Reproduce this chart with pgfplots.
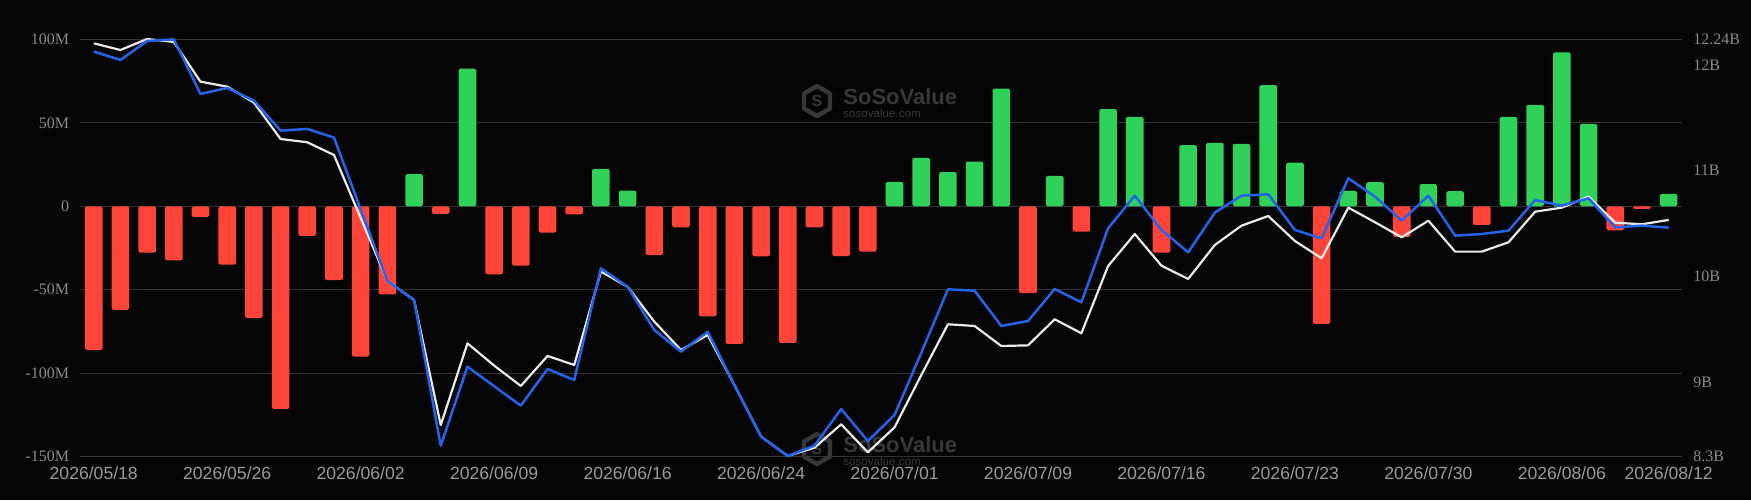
\documentclass[border=0pt]{standalone}
\usepackage{fontspec}
\setmainfont{Liberation Serif}
\newfontfamily\sansf{Liberation Sans}
\usepackage{pgfplots}
\pgfplotsset{compat=1.18}
\definecolor{bg}{HTML}{050505}
\definecolor{gridc}{HTML}{333333}
\definecolor{redb}{HTML}{FF453A}
\definecolor{greenb}{HTML}{30D158}
\definecolor{bluel}{HTML}{2563EB}
\definecolor{whitel}{HTML}{EAEAEA}
\definecolor{ylab}{HTML}{8A8A8A}
\definecolor{xlab}{HTML}{9A9A9A}
\definecolor{wm}{HTML}{383838}
\begin{document}
\begin{tikzpicture}
\fill[bg] (0,0) rectangle (875.5pt,250pt);
\path[use as bounding box] (0,0) rectangle (875.5pt,250pt);
% watermarks
\foreach \yy in {199.5,25.5}{
  \draw[wm, line width=2.2pt, line join=round] (408.5pt,\yy pt) +(90:7.5pt) -- +(30:7.5pt) -- +(-30:7.5pt) -- +(-90:7.5pt) -- +(-150:7.5pt) -- +(150:7.5pt) -- cycle;
  \node[text=wm, inner sep=0pt, font=\sansf\bfseries\fontsize{8pt}{9pt}\selectfont] at (408.5pt,\yy pt) {S};
  \node[anchor=west, inner sep=0pt, text=wm, font=\sansf\bfseries\fontsize{11pt}{12pt}\selectfont] at (421.5pt,\yy pt+2pt) {SoSoValue};
  \node[anchor=west, inner sep=0pt, text=wm, font=\sansf\fontsize{5.8pt}{6pt}\selectfont] at (421.5pt,\yy pt-6pt) {sosovalue.com};
}
\begin{axis}[
  at={(40.2pt,21.65pt)}, anchor=south west, scale only axis,
  width=800.8pt, height=208.7pt,
  xmin=-0.5, xmax=59.5, ymin=-150, ymax=100, clip=false,
  ybar, bar width=0.66,
  ytick={-150,-100,-50,0,50,100},
  yticklabels={-150M,-100M,-50M,0,50M,100M},
  ymajorgrids, grid style={gridc, line width=0.6pt},
  axis line style={draw=none}, major tick length=0pt,
  xtick={0,5,10,15,20,25,30,35,40,45,50,55,59},
  xticklabels={2026/05/18,2026/05/26,2026/06/02,2026/06/09,2026/06/16,2026/06/24,2026/07/01,2026/07/09,2026/07/16,2026/07/23,2026/07/30,2026/08/06,2026/08/12},
  x tick label style={font=\sansf\fontsize{8.8pt}{10pt}\selectfont, text=xlab, anchor=north, inner sep=0pt, yshift=-4.6pt},
  y tick label style={font=\fontsize{8pt}{9.6pt}\selectfont, text=ylab, anchor=east, inner sep=0pt, xshift=-5.4pt},
]
\addplot[fill=redb, draw=none, bar shift=0pt, rounded corners=0.8pt] coordinates {
(0,-86) (1,-62) (2,-27.8) (3,-32.4) (4,-6.4) (5,-35) (6,-66.8) (7,-121.4) (8,-17.8) (9,-44.2)
(10,-90) (11,-52.8) (13,-4.6) (15,-40.8) (16,-35.6) (17,-15.8) (18,-4.8) (21,-29.2) (22,-12.6)
(23,-66) (24,-82.4) (25,-30) (26,-81.8) (27,-12.6) (28,-29.8) (29,-27.2) (35,-52) (37,-15.2)
(40,-27.8) (46,-70.4) (49,-18.4) (52,-11.2) (57,-14.4) (58,-1.6)
};
\addplot[fill=greenb, draw=none, bar shift=0pt, rounded corners=0.8pt] coordinates {
(12,19.2) (14,82.4) (19,22.4) (20,9.4) (30,14.6) (31,29) (32,20.4) (33,26.8) (34,70.4) (36,18.2)
(38,58.2) (39,53.6) (41,36.6) (42,38) (43,37.4) (44,72.6) (45,26.2) (47,9.2) (48,14.4) (50,13.2)
(51,9) (53,53.6) (54,60.8) (55,92.2) (56,49.4) (59,7.4)
};
\end{axis}
\begin{axis}[
  at={(40.2pt,21.65pt)}, anchor=south west, scale only axis,
  width=800.8pt, height=208.7pt,
  xmin=-0.5, xmax=59.5, ymin=8.3, ymax=12.24, clip=false,
  axis y line*=right, hide x axis,
  axis line style={draw=none}, major tick length=0pt,
  ytick={8.3,9,10,11,12,12.24},
  yticklabels={8.3B,9B,10B,11B,12B,12.24B},
  y tick label style={font=\fontsize{8pt}{9.6pt}\selectfont, text=ylab, anchor=west, inner sep=0pt, xshift=5.5pt},
]
\addplot[whitel, line width=1.1pt, line join=round, mark=none] coordinates {
(0,12.202) (1,12.139) (2,12.243) (3,12.215) (4,11.840) (5,11.793) (6,11.642) (7,11.299) (8,11.268) (9,11.148)
(10,10.553) (11,9.959) (12,9.779) (13,8.599) (14,9.370) (15,9.160) (16,8.968) (17,9.251) (18,9.166) (19,10.047)
(20,9.905) (21,9.575) (22,9.307) (23,9.449) (24,8.977) (25,8.489) (26,8.307) (27,8.385) (28,8.606) (29,8.341)
(30,8.577) (31,9.07) (32,9.550) (33,9.534) (34,9.345) (35,9.351) (36,9.597) (37,9.465) (38,10.100) (39,10.402)
(40,10.103) (41,9.978) (42,10.299) (43,10.481) (44,10.572) (45,10.336) (46,10.173) (47,10.651) (48,10.513) (49,10.371)
(50,10.528) (51,10.236) (52,10.236) (53,10.324) (54,10.613) (55,10.651) (56,10.755) (57,10.509) (58,10.494) (59,10.535)
};
\addplot[bluel, line width=1.25pt, line join=round, mark=none] coordinates {
(0,12.124) (1,12.045) (2,12.224) (3,12.24) (4,11.724) (5,11.781) (6,11.661) (7,11.378) (8,11.394) (9,11.312)
(10,10.635) (11,9.959) (12,9.779) (13,8.404) (14,9.150) (15,8.965) (16,8.782) (17,9.128) (18,9.024) (19,10.078)
(20,9.905) (21,9.496) (22,9.292) (23,9.480) (24,8.977) (25,8.489) (26,8.307) (27,8.404) (28,8.750) (29,8.448)
(30,8.694) (31,9.28) (32,9.880) (33,9.867) (34,9.534) (35,9.581) (36,9.883) (37,9.757) (38,10.456) (39,10.764)
(40,10.440) (41,10.229) (42,10.604) (43,10.764) (44,10.777) (45,10.440) (46,10.361) (47,10.928) (48,10.755) (49,10.528)
(50,10.764) (51,10.387) (52,10.402) (53,10.434) (54,10.723) (55,10.670) (56,10.739) (57,10.465) (58,10.481) (59,10.462)
};
\end{axis}
\end{tikzpicture}
\end{document}
